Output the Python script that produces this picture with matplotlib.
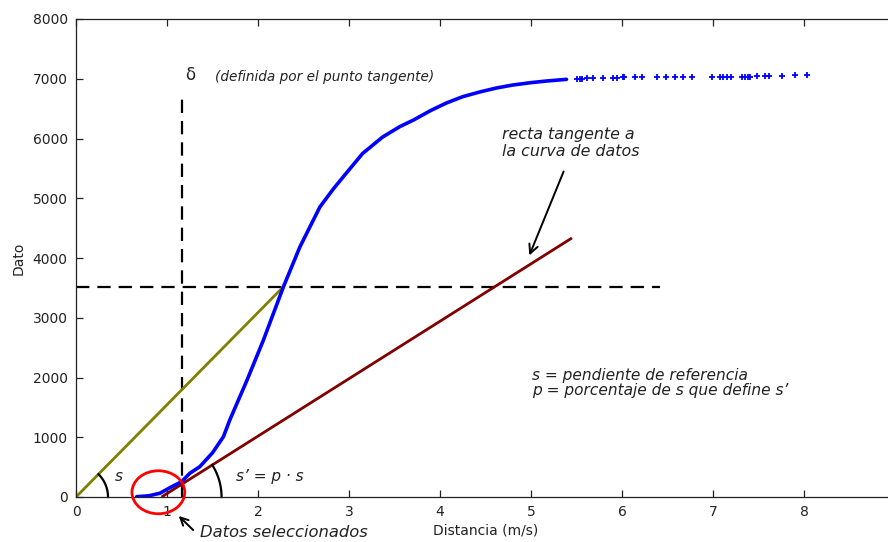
import numpy as np
import matplotlib
matplotlib.use("Agg")
import matplotlib.pyplot as plt
from matplotlib.patches import Ellipse

# --- data -----------------------------------------------------------------
# dense part of the measured curve
dist_curve = [0.667, 0.80, 0.92, 1.05, 1.16, 1.25, 1.36, 1.50, 1.62, 1.69,
              1.88, 2.06, 2.17, 2.28, 2.46, 2.68, 2.83, 2.97, 3.15, 3.37,
              3.56, 3.71, 3.90, 4.07, 4.25, 4.44, 4.62, 4.80, 5.00, 5.17,
              5.39]
dato_curve = [5, 20, 62, 170, 256, 396, 507, 740, 1009, 1289,
              1958, 2628, 3075, 3520, 4184, 4854, 5160, 5420, 5750, 6025,
              6200, 6310, 6470, 6594, 6700, 6780, 6845, 6895, 6935, 6962,
              6990]

# sparse tail samples
dist_tail = [5.51, 5.54, 5.56, 5.61, 5.68, 5.79, 5.90, 5.94, 6.01, 6.02,
             6.14, 6.22, 6.38, 6.48, 6.58, 6.67, 6.77, 6.99, 7.08, 7.11,
             7.15, 7.20, 7.32, 7.35, 7.38, 7.41, 7.48, 7.57, 7.62, 7.76,
             7.90, 8.03]
dato_tail = [6995, 6998, 7000, 7005, 7010, 7015, 7018, 7020, 7022, 7022,
             7025, 7028, 7030, 7030, 7032, 7032, 7035, 7035, 7035, 7035,
             7035, 7035, 7037, 7037, 7037, 7037, 7038, 7038, 7040, 7040,
             7055, 7062]

# tangent point and reference lines
delta_x = 1.16
delta_top = 6780
ref_level = 3520
ref_level_end = 6.42
ref_line_x = [0.0, 2.28]
ref_line_y = [0, 3520]
tan_line_x = [0.94, 5.45]
tan_line_y = [0, 4335]

# selected-data highlight (centre x, centre y, width, height)
sel_center = (0.905, 79)
sel_size = (0.58, 720)

x_ticks = [0, 1, 2, 3, 4, 5, 6, 7, 8]
y_ticks = [0, 1000, 2000, 3000, 4000, 5000, 6000, 7000, 8000]

# --- figure ---------------------------------------------------------------
W, H = 888, 542
fig = plt.figure(figsize=(W / 100, H / 100), dpi=100)
plt.rcParams["font.family"] = ["DejaVu Sans"]

ax_left, ax_right = 76, 895
ax_top, ax_bottom = 19, 497
ax = fig.add_axes([ax_left / W, 1 - ax_bottom / H,
                   (ax_right - ax_left) / W, (ax_bottom - ax_top) / H])
ax.set_xlim(0, 9)
ax.set_ylim(0, 8000)

ax.set_xticks(x_ticks)
ax.set_yticks(y_ticks)
ax.tick_params(direction="in", length=5, width=0.9, labelsize=10,
               top=True, right=True, pad=6, colors="#222222")
for sp in ax.spines.values():
    sp.set_linewidth(0.9)
    sp.set_color("#222222")

ax.set_xlabel("Distancia (m/s)", fontsize=10, labelpad=3, color="#222222")
ax.set_ylabel("Dato", fontsize=10, labelpad=5, color="#222222")

# dashed guides
dash = dict(color="black", lw=1.6, dashes=(6, 3.6))
ax.plot([delta_x, delta_x], [0, delta_top], **dash)
ax.plot([0, ref_level_end], [ref_level, ref_level], **dash)

# reference slope and tangent line
ax.plot(ref_line_x, ref_line_y, color="#808000", lw=2.0, solid_capstyle="butt")
ax.plot(tan_line_x, tan_line_y, color="#800000", lw=2.0, solid_capstyle="butt")

# data curve
ax.plot(dist_curve, dato_curve, color="#0000ff", lw=2.6,
        solid_capstyle="round", solid_joinstyle="round")
ax.plot(dist_tail, dato_tail, linestyle="none", marker="+", color="#0000ff",
        markersize=3.8, mew=1.3)

# selected-data highlight
ax.add_patch(Ellipse(sel_center, sel_size[0], sel_size[1], fill=False,
                     edgecolor="#ff0000", lw=2.0, clip_on=False, zorder=5))

# angle arcs, circular in screen space
px_per_x = (ax_right - ax_left) / 9.0
px_per_y = (ax_bottom - ax_top) / 8000.0


def angle_arc(xs, ys, r_px):
    ang = np.arctan2((ys[1] - ys[0]) * px_per_y, (xs[1] - xs[0]) * px_per_x)
    t = np.linspace(0, ang, 40)
    ax.plot(xs[0] + r_px / px_per_x * np.cos(t),
            ys[0] + r_px / px_per_y * np.sin(t),
            color="black", lw=1.6, clip_on=False)


angle_arc(ref_line_x, ref_line_y, 32)
angle_arc(tan_line_x, tan_line_y, 60)

# annotations
txt = dict(style="italic", color="#222222")
ax.text(0.47, 335, "s", fontsize=11, ha="center", va="center", **txt)
ax.text(1.76, 351, "s’ = p · s", fontsize=11, ha="left", va="center", **txt)
ax.text(1.20, 7060, "δ", fontsize=12, ha="left", va="center", color="#222222")
ax.text(1.53, 7030, "(definida por el punto tangente)", fontsize=9.8,
        ha="left", va="center", **txt)
ax.text(4.68, 5925, "recta tangente a\nla curva de datos", fontsize=11.4,
        ha="left", va="center", linespacing=1.2, **txt)
ax.text(5.01, 1908, "s = pendiente de referencia\np = porcentaje de s que define s’",
        fontsize=11.1, ha="left", va="center", linespacing=1.05, **txt)
ax.text(1.36, -586, "Datos seleccionados", fontsize=11.8, ha="left",
        va="center", **txt)

ax.annotate("", xy=(4.97, 4000), xytext=(5.37, 5490),
            arrowprops=dict(arrowstyle="->", color="black", lw=1.4,
                            mutation_scale=16))
ax.annotate("", xy=(1.107, -285), xytext=(1.31, -586),
            arrowprops=dict(arrowstyle="->", color="black", lw=1.4,
                            mutation_scale=14), annotation_clip=False)

fig.savefig("out.png", dpi=100)
